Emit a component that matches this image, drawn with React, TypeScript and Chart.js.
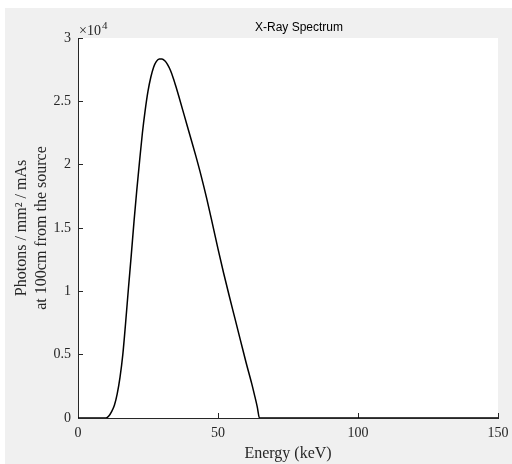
import { useEffect, useRef } from "react";
import { Chart, registerables } from "chart.js";

Chart.register(...registerables);

const energyKeV = [0, 10, 11, 12, 13, 14, 15, 16, 17, 18, 19, 20, 21, 22, 23, 24, 25, 26, 27, 28, 29, 30, 31, 32, 33, 34, 35, 36, 38, 40, 42, 44, 46, 48, 50, 52, 54, 56, 58, 60, 62, 63, 64, 64.8, 150];
const photons = [0, 0, 150, 500, 1000, 1900, 3200, 5000, 7500, 10200, 12800, 15500, 18000, 20300, 22500, 24300, 25800, 26900, 27700, 28150, 28350, 28350, 28200, 27900, 27450, 26850, 26150, 25400, 23850, 22300, 20750, 19100, 17300, 15350, 13350, 11450, 9650, 7900, 6150, 4400, 2750, 1850, 900, 0, 0];

const xTickValues = [0, 50, 100, 150];
const yTickValues = [0, 5000, 10000, 15000, 20000, 25000, 30000];
const yExponent = "4";
const titleText = "X-Ray Spectrum";
const xLabel = "Energy (keV)";
const yLabel = ["Photons / mm\u00B2 / mAs", "at 100cm from the source"];

const AXIS = "#262626";
const SERIF = "'Liberation Serif', 'Times New Roman', serif";
const SANS = "'Liberation Sans', Arial, sans-serif";

export default function App() {
  const ref = useRef<HTMLCanvasElement>(null);

  useEffect(() => {
    const canvas = ref.current;
    if (!canvas) return;

    const decor = {
      id: "decor",
      beforeDraw(chart: any) {
        const { ctx, chartArea: a, width, height } = chart;
        ctx.save();
        ctx.fillStyle = "#f0f0f0";
        ctx.fillRect(0, 0, width, height);
        ctx.fillStyle = "#ffffff";
        ctx.fillRect(a.left, a.top, a.right - a.left, a.bottom - a.top);
        ctx.restore();
      },
      afterDraw(chart: any) {
        const { ctx, chartArea: a } = chart;
        ctx.save();
        ctx.fillStyle = "#000";
        ctx.font = `12px ${SANS}`;
        ctx.textAlign = "center";
        ctx.textBaseline = "middle";
        ctx.fillText(titleText, (a.left + a.right) / 2 + 11, a.top - 10);
        ctx.fillStyle = AXIS;
        ctx.textAlign = "left";
        ctx.textBaseline = "alphabetic";
        ctx.font = `14px ${SERIF}`;
        const base = "\u00D710";
        ctx.fillText(base, a.left + 1, a.top - 3);
        const w = ctx.measureText(base).width;
        ctx.font = `11px ${SERIF}`;
        ctx.fillText(yExponent, a.left + w + 2, a.top - 9);
        ctx.restore();
      },
    };

    const chart = new Chart(canvas, {
      type: "line",
      data: {
        datasets: [
          {
            data: energyKeV.map((e, i) => ({ x: e, y: photons[i] })),
            borderColor: "#000",
            borderWidth: 1.5,
            pointRadius: 0,
            cubicInterpolationMode: "monotone",
            fill: false,
          },
        ],
      },
      options: {
        responsive: false,
        animation: false,
        devicePixelRatio: 1,
        layout: { padding: { top: 30, right: 14, left: 0, bottom: 0 } },
        plugins: { legend: { display: false }, tooltip: { enabled: false }, title: { display: false } },
        scales: {
          x: {
            type: "linear",
            min: 0,
            max: 150,
            afterBuildTicks: (s: any) => {
              s.ticks = xTickValues.map((v) => ({ value: v }));
            },
            afterFit: (s: any) => {
              s.height = 46;
              s.paddingRight = 0;
              s.paddingLeft = 0;
            },
            border: { display: true, color: AXIS, width: 1 },
            grid: { drawOnChartArea: false, drawTicks: true, tickLength: -5, tickColor: AXIS },
            ticks: { color: AXIS, font: { family: SERIF, size: 14 }, padding: 12, maxRotation: 0 },
            title: {
              display: true,
              text: xLabel,
              color: AXIS,
              font: { family: SERIF, size: 16, lineHeight: 1.2 },
              padding: { top: 0, bottom: 1 },
            },
          },
          y: {
            type: "linear",
            min: 0,
            max: 30000,
            afterBuildTicks: (s: any) => {
              s.ticks = yTickValues.map((v) => ({ value: v }));
            },
            afterFit: (s: any) => {
              s.width = 73;
              s.paddingTop = 0;
              s.paddingBottom = 0;
            },
            border: { display: true, color: AXIS, width: 1 },
            grid: { drawOnChartArea: false, drawTicks: true, tickLength: -5, tickColor: AXIS },
            ticks: {
              color: AXIS,
              font: { family: SERIF, size: 14 },
              padding: 12,
              callback: (v: any) => String(Number(v) / 10000),
            },
            title: {
              display: true,
              text: yLabel,
              color: AXIS,
              font: { family: SERIF, size: 16, lineHeight: "20px" as any },
              padding: { top: 7, bottom: 0 },
            },
          },
        },
      } as any,
      plugins: [decor],
    });

    return () => chart.destroy();
  }, []);

  return (
    <div style={{ position: "fixed", left: 5, top: 8, width: 507, height: 456 }}>
      <canvas ref={ref} width={507} height={456} style={{ display: "block" }} />
    </div>
  );
}
